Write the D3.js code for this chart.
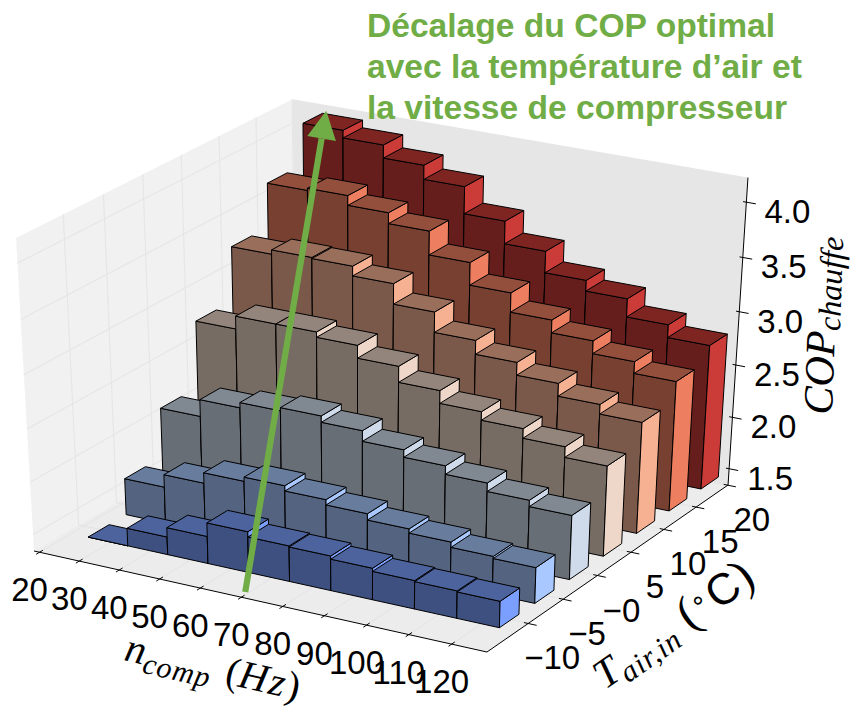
<!DOCTYPE html>
<html><head><meta charset="utf-8">
<script src="https://cdn.jsdelivr.net/npm/d3@7"></script>
<style>html,body{margin:0;padding:0;background:#fff}svg{display:block}</style>
</head><body><svg id="c" width="851" height="707"></svg>
<script>
// ---- data ----
const nComp = [20,30,40,50,60,70,80,90,100,110];
const tAir = [-10,-5,0,5,10,15,20];
const copM10 = [1.34,1.51,1.60,1.73,1.68,1.67,1.64,1.61,1.60,1.59];
const copM5  = [1.69,1.81,1.91,1.95,1.90,1.85,1.79,1.75,1.70,1.68];
const cop0   = [2.16,2.32,2.37,2.40,2.34,2.24,2.17,2.09,2.01,1.95];
const cop5   = [2.79,2.91,2.91,2.86,2.74,2.59,2.47,2.39,2.30,2.20];
const cop10  = [3.30,3.34,3.33,3.24,3.05,2.86,2.73,2.61,2.49,2.40];
const cop15  = [3.71,3.73,3.64,3.54,3.32,3.11,2.93,2.81,2.69,2.58];
const cop20  = [4.09,4.02,3.90,3.77,3.52,3.31,3.11,3.01,2.84,2.72];
const copRows = [copM10,copM5,cop0,cop5,cop10,cop15,cop20];
const rowColors = ['#7b9fff','#a8c8ff','#cfdbeb','#eed7c8','#f6b193','#ed7f60','#cb3b37'];
const xTicks = [20,30,40,50,60,70,80,90,100,110,120];
const yTicks = [-10,-5,0,5,10,15,20];
const yTickLabels = ['\u221210','\u22125','\u22120','5','10','15','20'];
const zTicks = [1.5,2.0,2.5,3.0,3.5,4.0];
const noteLines = ['Décalage du COP optimal','avec la température d\u2019air et','la vitesse de compresseur'];

// ---- scales ----
const sx = d3.scaleLinear().domain([18.6,128.2]).range([0,1]);
const sy = d3.scaleLinear().domain([-15.75,20.05]).range([0,1]);
const sz = d3.scaleLinear().domain([1.34,4.22]).range([0,1]);

// ---- perspective frame ----
const A=[34,551], Vx=[-9728,-1626], Vy=[3893,-1708], Vz=[358.5,6194];
const B=[487,652], D=[296,398], At=[16,238];
function wgt(P,V){const dx=P[0]-V[0],dy=P[1]-V[1];return ((A[0]-P[0])*dx+(A[1]-P[1])*dy)/(dx*dx+dy*dy);}
const ka=wgt(B,Vx), kb=wgt(D,Vy), kc=wgt(At,Vz);
function proj(u,v,w){
  const W=1+u*ka+v*kb+w*kc;
  return [(A[0]+u*ka*Vx[0]+v*kb*Vy[0]+w*kc*Vz[0])/W,(A[1]+u*ka*Vx[1]+v*kb*Vy[1]+w*kc*Vz[1])/W];
}
const P=(n,t,c)=>proj(sx(n),sy(t),sz(c));
const svg=d3.select('#c');
const line=d3.line();
const poly=(pts,fill,stroke,sw)=>svg.append('path').attr('d',line(pts)+'Z').attr('fill',fill)
  .attr('stroke',stroke||'none').attr('stroke-width',sw||0).attr('stroke-linejoin','round');
const seg=(a,b,col,sw)=>svg.append('line').attr('x1',a[0]).attr('y1',a[1]).attr('x2',b[0]).attr('y2',b[1]).attr('stroke',col).attr('stroke-width',sw);

// ---- panes ----
poly([proj(0,0,0),proj(0,0,1),proj(0,1,1),proj(0,1,0)],'#f1f1f1');
poly([proj(0,1,0),proj(0,1,1),proj(1,1,1),proj(1,1,0)],'#e6e6e6');
poly([proj(0,0,0),proj(1,0,0),proj(1,1,0),proj(0,1,0)],'#ececec');
// ---- grid ----
const gc='#e6e6e6';
yTicks.forEach(t=>{const v=sy(t);seg(proj(0,v,0),proj(0,v,1),gc,1.2);seg(proj(0,v,0),proj(1,v,0),'#e3e3e3',1);});
zTicks.forEach(c=>{const w=sz(c);seg(proj(0,0,w),proj(0,1,w),gc,1.2);});
xTicks.forEach(n=>{const u=sx(n);seg(proj(u,0,0),proj(u,1,0),'#e3e3e3',1);});

// ---- bars ----
const barOffset=4.2, barW=10, depthF=-1.63, depthB=1.12;
const shade=(c,f)=>{const r=d3.rgb(c);return d3.rgb(r.r*f,r.g*f,r.b*f).formatHex();};
const zBase=sz.domain()[0];
tAir.map((t,i)=>[t,i]).reverse().forEach(([t,i])=>{
  const col=rowColors[i], front=shade(col,0.5), top=shade(col,0.62);
  nComp.forEach((n,j)=>{
    const c=copRows[i][j], x0=n+barOffset, x1=x0+barW, y0=t+depthF, y1=t+depthB;
    poly([P(x0,y0,zBase),P(x1,y0,zBase),P(x1,y0,c),P(x0,y0,c)],front,'#000',1);
    poly([P(x1,y0,zBase),P(x1,y1,zBase),P(x1,y1,c),P(x1,y0,c)],col,'#000',1);
    poly([P(x0,y0,c),P(x1,y0,c),P(x1,y1,c),P(x0,y1,c)],top,'#000',1);
  });
});

// ---- axes ----
seg(proj(0,0,0),proj(1,0,0),'#000',1);
seg(proj(1,0,0),proj(1,1,0),'#000',1);
seg(proj(1,1,0),proj(1,1,1),'#000',1);
const fs='Liberation Sans, Arial, sans-serif';
const lab=(p,s,dx,dy)=>svg.append('text').attr('x',p[0]+dx).attr('y',p[1]+dy).attr('text-anchor','middle')
  .attr('font-family',fs).attr('font-size',33).attr('fill','#000').text(s);
xTicks.forEach(n=>{const u=sx(n);seg(proj(u,-0.012,0),proj(u,0.012,0),'#000',1);lab(proj(u,0,0),String(n),-10,49);});
yTicks.forEach((t,i)=>{const v=sy(t);seg(proj(0.991,v,0),proj(1.018,v,0),'#000',1);lab(proj(1,v,0),yTickLabels[i],24,46);});
zTicks.forEach(c=>{const w=sz(c);seg(proj(0.993,1,w),proj(1.02,1,w),'#000',1);lab(proj(1,1,w),c.toFixed(1),41,21);});

// ---- axis titles ----
const mathF='Liberation Serif, serif';
function rich(x,y,rot,parts){
  const t=svg.append('text').attr('transform',`translate(${x},${y}) rotate(${rot})`).attr('fill','#000');
  parts.forEach(p=>t.append('tspan').attr('font-family',p.f||mathF).attr('font-style',p.it===false?'normal':'italic')
    .attr('font-size',p.s).attr('dy',p.dy||0).attr('dx',p.dx||0).attr('letter-spacing',p.ls||0).text(p.t));
}
rich(123,660,13,[{t:'n',s:41},{t:'comp',s:30,dy:8,ls:1},{t:'(',s:40,dy:-8,dx:14,it:false},{t:'Hz',s:40,ls:2},{t:')',s:40,it:false}]);
rich(605,690,-35,[{t:'T',s:41},{t:'air,in',s:30,dy:8,ls:1},{t:'(',s:48,dy:-8,dx:12,it:false},{t:'\u2218',s:26,dy:-12,it:false},{t:'C',s:44,dy:12,dx:3,f:fs,it:false},{t:')',s:48,it:false}]);
rich(832,415,-88,[{t:'COP',s:42},{t:'chauffe',s:32,dy:5}]);

// ---- annotation ----
const green='#70ad47';
const from=P(69.2,-14.8,1.34), to=P(24.8,21.3,4.11);
const dir=[to[0]-from[0],to[1]-from[1]],len=Math.hypot(dir[0],dir[1]),ux=dir[0]/len,uy=dir[1]/len;
const hl=28,hw=14.5;
const neck=[to[0]-ux*hl,to[1]-uy*hl];
seg(from,neck,green,6.2);
poly([to,[neck[0]-uy*hw,neck[1]+ux*hw],[neck[0]+uy*hw,neck[1]-ux*hw]],green);
noteLines.forEach((s,i)=>svg.append('text').attr('x',367).attr('y',37+i*41).attr('font-family',fs).attr('font-weight','bold')
  .attr('font-size',33.6).attr('fill',green).text(s));
</script></body></html>
